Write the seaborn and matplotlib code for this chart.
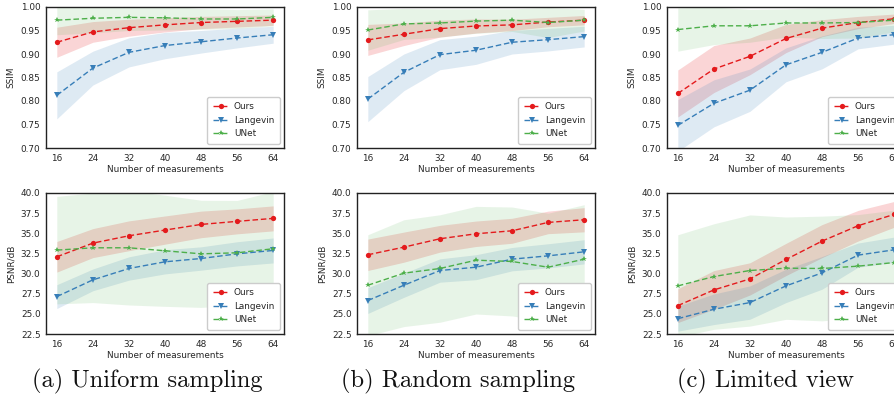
import matplotlib
matplotlib.use("Agg")
import matplotlib.pyplot as plt
import numpy as np
import pandas as pd
import seaborn as sns

MEASUREMENTS = [16, 24, 32, 40, 48, 56, 64]
METHODS = ["Ours", "Langevin", "UNet"]
CAPTIONS = ["(a) Uniform sampling", "(b) Random sampling", "(c) Limited view"]

# (a) uniform sampling -- mean and std per method
UNI_SSIM_OURS = [0.925, 0.947, 0.956, 0.962, 0.967, 0.9695, 0.972]
UNI_SSIM_OURS_STD = [0.032, 0.022, 0.018, 0.015, 0.013, 0.012, 0.011]
UNI_SSIM_LANG = [0.812, 0.870, 0.9035, 0.918, 0.926, 0.934, 0.941]
UNI_SSIM_LANG_STD = [0.050, 0.036, 0.031, 0.028, 0.024, 0.021, 0.018]
UNI_SSIM_UNET = [0.972, 0.976, 0.978, 0.977, 0.9745, 0.9745, 0.978]
UNI_SSIM_UNET_STD = [0.031, 0.031, 0.028, 0.026, 0.022, 0.020, 0.018]
UNI_PSNR_OURS = [32.08, 33.78, 34.69, 35.40, 36.10, 36.48, 36.85]
UNI_PSNR_OURS_STD = [1.90, 1.80, 1.85, 1.75, 1.65, 1.55, 1.55]
UNI_PSNR_LANG = [27.14, 29.22, 30.63, 31.46, 31.87, 32.45, 32.87]
UNI_PSNR_LANG_STD = [1.48, 1.35, 1.45, 1.50, 1.45, 1.50, 1.55]
UNI_PSNR_UNET = [32.91, 33.20, 33.20, 32.83, 32.45, 32.58, 33.08]
UNI_PSNR_UNET_STD = [6.67, 6.80, 7.10, 6.90, 6.65, 6.50, 7.10]

# (b) random sampling
RND_SSIM_OURS = [0.930, 0.942, 0.954, 0.9596, 0.962, 0.968, 0.972]
RND_SSIM_OURS_STD = [0.033, 0.024, 0.018, 0.015, 0.012, 0.010, 0.010]
RND_SSIM_LANG = [0.804, 0.861, 0.8986, 0.908, 0.925, 0.9305, 0.937]
RND_SSIM_LANG_STD = [0.048, 0.039, 0.032, 0.030, 0.025, 0.024, 0.022]
RND_SSIM_UNET = [0.951, 0.964, 0.966, 0.970, 0.972, 0.967, 0.972]
RND_SSIM_UNET_STD = [0.043, 0.033, 0.030, 0.026, 0.024, 0.032, 0.023]
RND_PSNR_OURS = [32.33, 33.28, 34.32, 34.94, 35.31, 36.35, 36.68]
RND_PSNR_OURS_STD = [1.95, 1.87, 1.66, 1.58, 1.55, 1.40, 1.50]
RND_PSNR_LANG = [26.65, 28.55, 30.38, 30.79, 31.79, 32.20, 32.70]
RND_PSNR_LANG_STD = [1.60, 1.50, 1.45, 1.55, 1.45, 1.50, 1.50]
RND_PSNR_UNET = [28.55, 30.05, 30.63, 31.66, 31.50, 30.79, 31.79]
RND_PSNR_UNET_STD = [6.27, 6.63, 6.67, 6.68, 6.76, 6.70, 6.76]

# (c) limited view
LIM_SSIM_OURS = [0.816, 0.868, 0.895, 0.933, 0.955, 0.967, 0.975]
LIM_SSIM_OURS_STD = [0.050, 0.050, 0.039, 0.030, 0.018, 0.013, 0.010]
LIM_SSIM_LANG = [0.748, 0.795, 0.823, 0.877, 0.9035, 0.934, 0.941]
LIM_SSIM_LANG_STD = [0.055, 0.050, 0.045, 0.036, 0.035, 0.023, 0.020]
LIM_SSIM_UNET = [0.952, 0.960, 0.960, 0.966, 0.966, 0.967, 0.972]
LIM_SSIM_UNET_STD = [0.046, 0.040, 0.035, 0.030, 0.033, 0.033, 0.025]
LIM_PSNR_OURS = [26.02, 27.97, 29.34, 31.75, 34.03, 35.94, 37.35]
LIM_PSNR_OURS_STD = [2.10, 2.40, 2.00, 2.00, 2.05, 1.90, 1.60]
LIM_PSNR_LANG = [24.40, 25.57, 26.40, 28.47, 30.09, 32.29, 32.95]
LIM_PSNR_LANG_STD = [1.55, 1.90, 2.07, 2.07, 2.03, 1.50, 1.58]
LIM_PSNR_UNET = [28.47, 29.63, 30.38, 30.67, 30.63, 30.92, 31.37]
LIM_PSNR_UNET_STD = [6.35, 6.55, 6.90, 6.35, 6.50, 6.40, 6.50]

PANELS = [
    [(UNI_SSIM_OURS, UNI_SSIM_OURS_STD, UNI_SSIM_LANG, UNI_SSIM_LANG_STD, UNI_SSIM_UNET, UNI_SSIM_UNET_STD),
     (UNI_PSNR_OURS, UNI_PSNR_OURS_STD, UNI_PSNR_LANG, UNI_PSNR_LANG_STD, UNI_PSNR_UNET, UNI_PSNR_UNET_STD)],
    [(RND_SSIM_OURS, RND_SSIM_OURS_STD, RND_SSIM_LANG, RND_SSIM_LANG_STD, RND_SSIM_UNET, RND_SSIM_UNET_STD),
     (RND_PSNR_OURS, RND_PSNR_OURS_STD, RND_PSNR_LANG, RND_PSNR_LANG_STD, RND_PSNR_UNET, RND_PSNR_UNET_STD)],
    [(LIM_SSIM_OURS, LIM_SSIM_OURS_STD, LIM_SSIM_LANG, LIM_SSIM_LANG_STD, LIM_SSIM_UNET, LIM_SSIM_UNET_STD),
     (LIM_PSNR_OURS, LIM_PSNR_OURS_STD, LIM_PSNR_LANG, LIM_PSNR_LANG_STD, LIM_PSNR_UNET, LIM_PSNR_UNET_STD)],
]

COLORS = {"Ours": "#e41a1c", "Langevin": "#377eb8", "UNet": "#4daf4a"}
MARKERS = {"Ours": "o", "Langevin": "v", "UNet": "*"}
BAND_ALPHA = {"Ours": 0.18, "Langevin": 0.16, "UNet": 0.13}

W, H = 894, 397
COL_LEFT = [46, 357, 667]
CAPTION_X = [147, 458, 765]
ROW_TOP = [7, 193]
AX_W, AX_H = 238, 141
FS = 6.4


def panel_frame(values) -> pd.DataFrame:
    rows = []
    for i, method in enumerate(METHODS):
        mean, std = values[2 * i], values[2 * i + 1]
        for m, mu, sd in zip(MEASUREMENTS, mean, std):
            rows.append({"n": m, "method": method, "mean": mu, "std": sd})
    return pd.DataFrame(rows)


def draw(ax, values, ylabel, ylim, yticks, yfmt):
    df = panel_frame(values)
    for method in METHODS:
        d = df[df["method"] == method]
        ax.fill_between(d["n"], d["mean"] - d["std"], d["mean"] + d["std"],
                        color=COLORS[method], alpha=BAND_ALPHA[method], lw=0)
    sns.lineplot(data=df, x="n", y="mean", hue="method", style="method",
                 palette=COLORS, markers=MARKERS, dashes={k: (4, 2) for k in METHODS},
                 markersize=3.8, markeredgewidth=0, linewidth=1.0, ax=ax)
    ax.set_xticks(MEASUREMENTS)
    ax.set_ylim(*ylim)
    ax.set_yticks(yticks)
    ax.set_yticklabels([yfmt.format(v) for v in yticks])
    ax.set_xlabel("Number of measurements", fontsize=FS, labelpad=2)
    ax.set_ylabel(ylabel, fontsize=FS, labelpad=4)
    ax.tick_params(labelsize=FS, length=0, pad=4)
    ax.legend(loc="lower right", fontsize=FS, frameon=True,
              handlelength=1.8, handletextpad=0.6, borderpad=0.6, labelspacing=0.5,
              fancybox=True, edgecolor="#cccccc", framealpha=1)
    for s in ax.spines.values():
        s.set_color("#222222")
        s.set_linewidth(1.0)


def main() -> None:
    sns.set_theme(style="white")
    plt.rcParams["font.family"] = ["DejaVu Sans"]
    fig = plt.figure(figsize=(W / 100, H / 100), dpi=100)
    ssim_ticks = np.round(np.arange(0.70, 1.001, 0.05), 2)
    psnr_ticks = np.arange(22.5, 40.01, 2.5)
    for c, (left, cap) in enumerate(zip(COL_LEFT, CAPTIONS)):
        for r, top in enumerate(ROW_TOP):
            ax = fig.add_axes([left / W, 1 - (top + AX_H) / H, AX_W / W, AX_H / H])
            if r == 0:
                draw(ax, PANELS[c][0], "SSIM", (0.70, 1.00), ssim_ticks, "{:.2f}")
            else:
                draw(ax, PANELS[c][1], "PSNR/dB", (22.5, 40.0), psnr_ticks, "{:.1f}")
        fig.text(CAPTION_X[c] / W, 1 - 381 / H, cap, ha="center", va="center",
                 family="cmr10", fontsize=17.6, color="#111111")
    fig.savefig("out.png", dpi=100, facecolor="white")


if __name__ == "__main__":
    main()
